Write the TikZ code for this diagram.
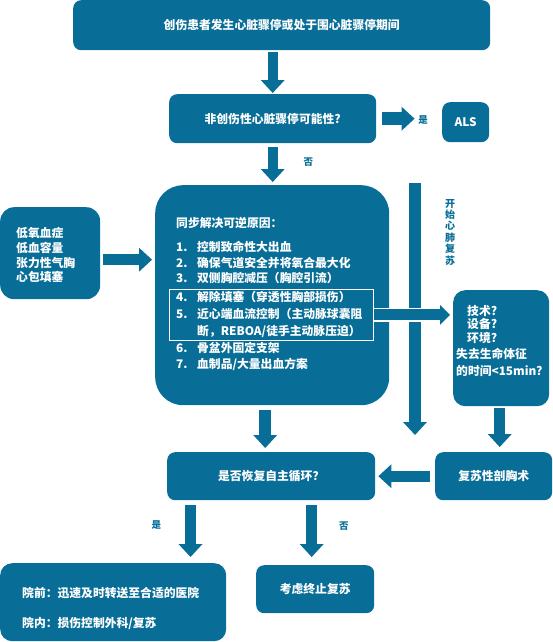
\documentclass[tikz,border=0pt]{standalone}
\usepackage{fontspec}
\setmainfont{Noto Sans CJK SC}
\usetikzlibrary{arrows.meta, positioning, calc}
\definecolor{cprblue}{RGB}{8,110,152}
\newcommand{\itemno}[1]{\makebox[21pt][l]{#1}}
\newcommand{\tightlines}{\lineskiplimit=-20pt\relax}

\begin{document}
\begin{tikzpicture}[
    x=1pt, y=-1pt,
    box/.style={fill=cprblue, text=white, rounded corners=8pt,
                font=\bfseries\fontsize{11.8}{14}\selectfont,
                anchor=north west, inner sep=0pt},
    item/.style={text=white, anchor=west, inner sep=0pt,
                 font=\bfseries\fontsize{11.8}{14}\selectfont},
    lbl/.style={text=cprblue, inner sep=0pt,
                font=\bfseries\fontsize{9.5}{10}\selectfont},
    fat/.style={draw=cprblue, line width=11pt,
                -{Triangle[width=24pt, length=13pt, line width=0pt]}}
  ]
  \useasboundingbox (0,0) rectangle (553,642);

  \node[box, minimum width=417pt, minimum height=50pt] (trauma) at (73,0)
    {创伤患者发生心脏骤停或处于围心脏骤停期间};
  \node[box, minimum width=207pt, minimum height=49pt] (nontrauma) at (169,94)
    {非创伤性心脏骤停可能性?};
  \node[box, minimum width=47pt, minimum height=40pt] (als) at (442,102) {ALS};
  \node[lbl] (yesals) at (423,120) {是};

  % reversible causes
  \node[box, rounded corners=28pt, minimum width=234pt, minimum height=220pt]
    (causes) at (155,185) {};
  \node[item] (title) at (176,223) {同步解决可逆原因：};
  \node[item] (s1) at (176,247) {\itemno{1.}控制致命性大出血};
  \node[item] (s2) at (176,263) {\itemno{2.}确保气道安全并将氧合最大化};
  \node[item] (s3) at (176,278) {\itemno{3.}双侧胸腔减压（胸腔引流）};
  \node[item] (s4) at (176,297) {\itemno{4.}解除填塞（穿透性胸部损伤）};
  \node[item] (s5) at (176,314) {\itemno{5.}近心端血流控制（主动脉球囊阻};
  \node[item] (s5b) at (197,331) {断，REBOA/徒手主动脉压迫）};
  \node[item] (s6) at (176,348) {\itemno{6.}骨盆外固定支架};
  \node[item] (s7) at (176,364) {\itemno{7.}血制品/大量出血方案};
  \node[draw=white, line width=0.8pt, anchor=north west, inner sep=0pt,
        minimum width=204pt, minimum height=51pt] (hl) at (169,289) {};

  \node[box, rounded corners=14pt, minimum width=100pt, minimum height=92pt]
    (hypo) at (0,207) {};
  \node[item] (h1) at (16,233) {低氧血症};
  \node[item] (h2) at (16,248) {低血容量};
  \node[item] (h3) at (16,263) {张力性气胸};
  \node[item] (h4) at (16,277) {心包填塞};

  \node[box, rounded corners=12pt, minimum width=96pt, minimum height=116pt]
    (check) at (453,290) {};
  \node[item] (c1) at (467,311) {技术?};
  \node[item] (c2) at (467,324) {设备?};
  \node[item] (c3) at (467,338) {环境?};
  \node[item] (c4) at (456,354) {失去生命体征};
  \node[item] (c5) at (456,371) {的时间<15min?};

  \node[box, minimum width=208pt, minimum height=48pt] (rosc) at (167,452)
    {是否恢复自主循环？};
  \node[box, minimum width=117pt, minimum height=48pt] (thor) at (435,452)
    {复苏性剖胸术};
  \node[box, rounded corners=12pt, minimum width=226pt, minimum height=78pt]
    (transfer) at (0,563) {};
  \node[item] (pre) at (22,593) {院前：迅速及时转送至合适的医院};
  \node[item] (inh) at (22,623) {院内：损伤控制外科/复苏};
  \node[box, minimum width=118pt, minimum height=48pt] (stop) at (256,565)
    {考虑终止复苏};

  % start CPR
  \coordinate (cprtop) at (415,183);
  \coordinate (cprend) at (415,435);
  \draw[fat, line width=12pt] (cprtop) -- (cprend);
  \node[lbl, align=center,
        font={\bfseries\fontsize{10}{11.4}\selectfont\tightlines}]
    (cprlbl) at (450,232) {开\\始\\心\\肺\\复\\苏};

  % arrows
  \draw[fat, line width=10pt, shorten <=2pt, shorten >=1pt]
    (trauma.south -| nontrauma.north) -- (nontrauma.north);
  \draw[fat, line width=13pt, shorten <=6pt, shorten >=3.5pt]
    (nontrauma.east) -- (nontrauma.east -| yesals.west);
  \draw[fat, line width=10pt, shorten <=4pt, shorten >=3pt]
    (nontrauma.south) -- (nontrauma.south |- causes.north)
    node[lbl, pos=.45, right=26pt] (no1) {否};
  \coordinate (hypoout) at ($(hypo.east)+(0,6.5)$);
  \draw[fat, shorten <=3pt, shorten >=3pt] (hypoout) -- (hypoout -| causes.west);
  \draw[white, line width=13.5pt, shorten >=12pt] (hl.east) -- (hl.east -| check.west);
  \draw[fat, -{Triangle[width=20pt, length=10pt, line width=0pt]}, shorten >=3pt]
    (hl.east) -- (hl.east -| check.west);
  \coordinate (checkout) at ($(check.south)+(-1.5,0)$);
  \draw[fat, shorten <=2pt, shorten >=5pt] (checkout) -- (checkout |- thor.north);
  \coordinate (causesout) at ($(causes.south)+(-7,0)$);
  \draw[fat, line width=12pt, shorten <=5pt, shorten >=4pt]
    (causesout) -- (causesout |- rosc.north);
  \draw[fat, shorten <=5pt, shorten >=3pt] (thor.west) -- (thor.west -| rosc.east);
  \coordinate (roscyes) at ($(rosc.south west)+(23.5,0)$);
  \draw[fat, shorten <=5pt, shorten >=6pt] (roscyes) -- (roscyes |- transfer.north)
    node[lbl, pos=.4, left=24pt] (yes2) {是};
  \coordinate (roscno) at ($(stop.north)+(-3.5,0)$);
  \draw[fat, shorten <=5pt, shorten >=8pt] (roscno |- rosc.south) -- (roscno)
    node[lbl, pos=.4, right=22pt] (no2) {否};
\end{tikzpicture}
\end{document}
